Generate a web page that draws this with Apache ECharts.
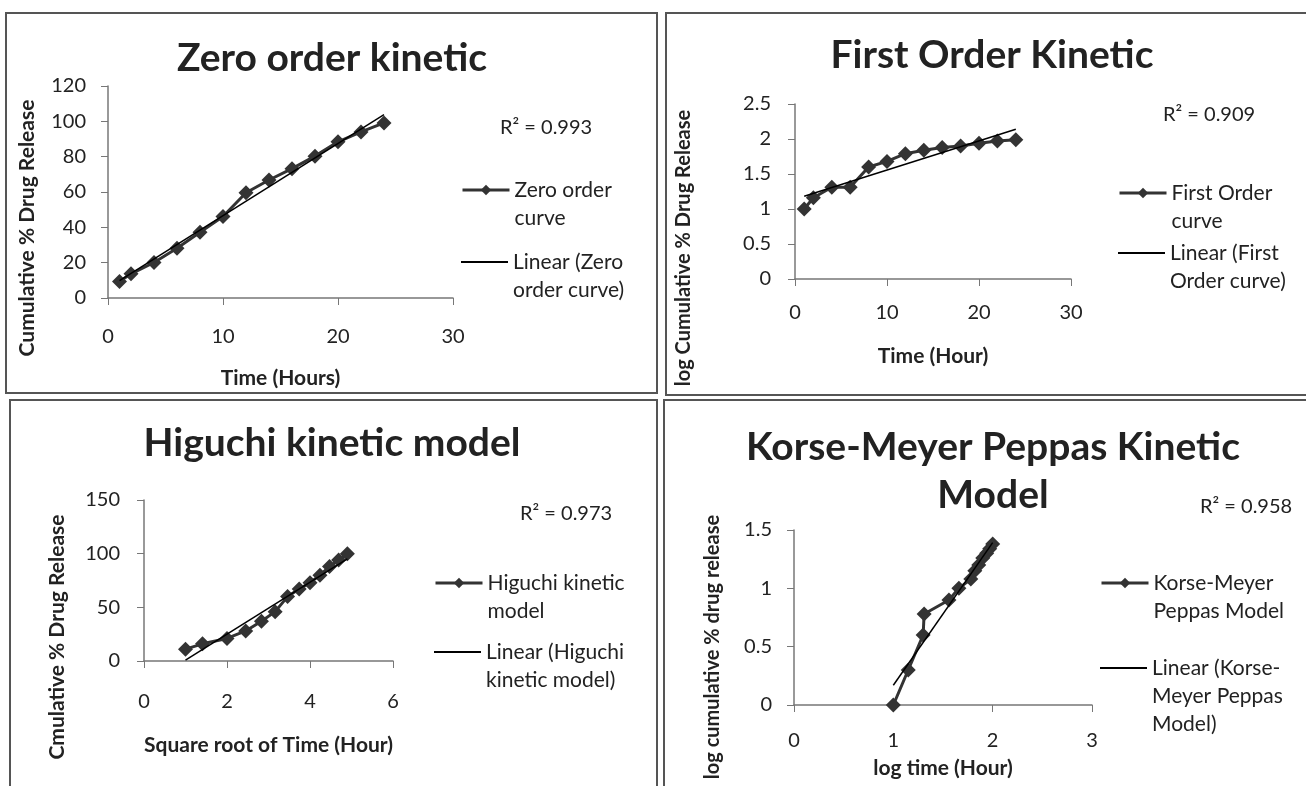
<!DOCTYPE html>
<html>
<head>
<meta charset="utf-8">
<script src="https://cdn.jsdelivr.net/npm/echarts@6/dist/echarts.min.js"></script>
<style>
  html, body { margin: 0; padding: 0; background: #fff; }
  #chart { width: 1306px; height: 786px; }
</style>
</head>
<body>
<div id="chart"></div>
<script>
// values
var zeroTime = [1, 2, 4, 6, 8, 10, 12, 14, 16, 18, 20, 22, 24];
var zeroRelease = [9.4, 13.7, 20.1, 28.2, 37.2, 46.1, 59.6, 66.8, 73.2, 80.3, 88.4, 94, 99.1];

var firstTime = [1, 2, 4, 6, 8, 10, 12, 14, 16, 18, 20, 22, 24];
var firstLogRelease = [1.0, 1.16, 1.31, 1.31, 1.6, 1.68, 1.79, 1.84, 1.88, 1.9, 1.94, 1.97, 1.99];

var higuchiSqrtTime = [1, 1.41, 2, 2.45, 2.83, 3.16, 3.46, 3.74, 4, 4.24, 4.47, 4.69, 4.9];
var higuchiRelease = [11, 16, 21, 28, 37, 46, 60, 67, 73, 80, 88, 94, 100];

var kpLogRelease = [1.0, 1.15, 1.30, 1.31, 1.56, 1.66, 1.78, 1.82, 1.86, 1.90, 1.94, 1.97, 2.0];
var kpLogTime = [0, 0.3, 0.6, 0.78, 0.9, 1.0, 1.08, 1.15, 1.2, 1.26, 1.3, 1.34, 1.38];

var rSquared = ['0.993', '0.909', '0.973', '0.958'];

var font = 'Lato';
var ink = '#222';

function pairs(xs, ys) {
  return xs.map(function (x, i) { return [x, ys[i]]; });
}

// least squares trendline over the data range, like Excel's linear trendline
function trend(xs, ys) {
  var n = xs.length, sx = 0, sy = 0, sxx = 0, sxy = 0;
  for (var i = 0; i < n; i++) {
    sx += xs[i]; sy += ys[i]; sxx += xs[i] * xs[i]; sxy += xs[i] * ys[i];
  }
  var b = (n * sxy - sx * sy) / (n * sxx - sx * sx);
  var a = (sy - b * sx) / n;
  var x0 = Math.min.apply(null, xs), x1 = Math.max.apply(null, xs);
  return [[x0, a + b * x0], [x1, a + b * x1]];
}

function xAxis(idx, max, interval, name, gap, margin) {
  return {
    gridIndex: idx, type: 'value', min: 0, max: max, interval: interval,
    name: name, nameLocation: 'middle', nameGap: gap,
    nameTextStyle: { fontFamily: font, fontWeight: 'bold', fontSize: 21, color: ink },
    axisLine: { lineStyle: { color: '#777', width: 1.5 } },
    axisTick: { show: true, length: 7, lineStyle: { color: '#777' } },
    axisLabel: { margin: margin, fontFamily: font, fontSize: 20, color: ink },
    splitLine: { show: false }
  };
}

function yAxis(idx, max, interval, margin) {
  return {
    gridIndex: idx, type: 'value', min: 0, max: max, interval: interval,
    axisLine: { show: true, lineStyle: { color: '#777', width: 1.5 } },
    axisTick: { show: true, length: 7, lineStyle: { color: '#777' } },
    axisLabel: { margin: margin, fontFamily: font, fontSize: 20, color: ink },
    splitLine: { show: false }
  };
}

function dataSeries(name, idx, data) {
  return {
    name: name, type: 'line', xAxisIndex: idx, yAxisIndex: idx, data: data,
    symbol: 'diamond', symbolSize: 15,
    lineStyle: { color: '#333', width: 3 },
    itemStyle: { color: '#333' },
    z: 2
  };
}

function trendSeries(name, idx, data) {
  return {
    name: name, type: 'line', xAxisIndex: idx, yAxisIndex: idx, data: data,
    symbol: 'none', lineStyle: { color: '#000', width: 1.5 }, itemStyle: { color: '#000' },
    z: 3
  };
}

// one legend per item so each can sit where the original puts it;
// blank lines on top keep the key level with the first text line
function legendItem(name, text, x, cy, isTrend) {
  var lh = 28;
  var lines = text.split('\n').length;
  var pad = new Array(lines).join('\n');
  return {
    data: [isTrend ? { name: name, icon: 'rect' } : name],
    left: x, top: cy - (2 * lines - 1) * lh / 2,
    orient: 'vertical', padding: 0, itemWidth: 47, itemHeight: isTrend ? 2 : 13, itemGap: 0,
    selectedMode: false,
    lineStyle: { width: 3 },
    formatter: function () { return pad + text; },
    textStyle: { fontFamily: font, fontSize: 21, lineHeight: lh, color: ink }
  };
}

function label(text, x, y, fs, bold, rotate, align) {
  return {
    type: 'text', x: x, y: y, rotation: rotate ? Math.PI / 2 : 0,
    style: {
      text: text, fontFamily: font, fontSize: fs, fontWeight: bold ? 'bold' : 'normal',
      fill: ink, textAlign: align || 'center', textVerticalAlign: 'middle'
    }
  };
}

function frame(x, y, w, h) {
  return { type: 'rect', shape: { x: x, y: y, width: w, height: h },
           style: { fill: 'none', stroke: '#555', lineWidth: 2 } };
}

var chart = echarts.init(document.getElementById('chart'));

var option = {
  backgroundColor: '#fff',
  animation: false,
  grid: [
    { left: 108, top: 86, width: 345, height: 212 },
    { left: 795, top: 104, width: 276, height: 175 },
    { left: 144, top: 500, width: 249, height: 161 },
    { left: 794, top: 530, width: 298, height: 175 }
  ],
  xAxis: [
    xAxis(0, 30, 10, 'Time (Hours)', 70, 29),
    xAxis(1, 30, 10, 'Time (Hour)', 67, 24),
    xAxis(2, 6, 2, 'Square root of Time (Hour)', 74, 31),
    xAxis(3, 3, 1, 'log time (Hour)', 53, 26)
  ],
  yAxis: [
    yAxis(0, 120, 20, 22),
    yAxis(1, 2.5, 0.5, 24),
    yAxis(2, 150, 50, 24),
    yAxis(3, 1.5, 0.5, 22)
  ],
  legend: [
    legendItem('Zero order curve', 'Zero order\ncurve', 461, 190),
    legendItem('Linear (Zero order curve)', 'Linear (Zero\norder curve)', 461, 262, true),
    legendItem('First Order curve', 'First Order\ncurve', 1118, 193),
    legendItem('Linear (First Order curve)', 'Linear (First\nOrder curve)', 1118, 253, true),
    legendItem('Higuchi kinetic model', 'Higuchi kinetic\nmodel', 434, 583),
    legendItem('Linear (Higuchi kinetic model)', 'Linear (Higuchi\nkinetic model)', 434, 652, true),
    legendItem('Korse-Meyer Peppas Model', 'Korse-Meyer\nPeppas Model', 1100, 583),
    legendItem('Linear (Korse-Meyer Peppas Model)', 'Linear (Korse-\nMeyer Peppas\nModel)', 1100, 668, true)
  ],
  series: [
    dataSeries('Zero order curve', 0, pairs(zeroTime, zeroRelease)),
    trendSeries('Linear (Zero order curve)', 0, trend(zeroTime, zeroRelease)),
    dataSeries('First Order curve', 1, pairs(firstTime, firstLogRelease)),
    trendSeries('Linear (First Order curve)', 1, trend(firstTime, firstLogRelease)),
    dataSeries('Higuchi kinetic model', 2, pairs(higuchiSqrtTime, higuchiRelease)),
    trendSeries('Linear (Higuchi kinetic model)', 2, trend(higuchiSqrtTime, higuchiRelease)),
    dataSeries('Korse-Meyer Peppas Model', 3, pairs(kpLogRelease, kpLogTime)),
    trendSeries('Linear (Korse-Meyer Peppas Model)', 3, trend(kpLogRelease, kpLogTime))
  ],
  graphic: [
    frame(6, 13, 651, 380),
    frame(666, 13, 650, 382),
    frame(10, 400, 647, 400),
    frame(664, 400, 650, 400),

    label('Zero order kinetic', 332, 58, 39, true),
    label('First Order Kinetic', 992, 55, 39, true),
    label('Higuchi kinetic model', 332, 443, 39, true),
    label('Korse-Meyer Peppas Kinetic', 993, 447, 39, true),
    label('Model', 993, 495, 39, true),

    label('Cumulative % Drug Release', 27, 228, 21, true, true),
    label('log Cumulative % Drug Release', 684, 248, 20, true, true),
    label('Cmulative % Drug Release', 57, 637, 21, true, true),
    label('log cumulative % drug release', 713, 647, 20, true, true),

    label('R\u00b2 = ' + rSquared[0], 500, 128, 20, false, false, 'left'),
    label('R\u00b2 = ' + rSquared[1], 1163, 115, 20, false, false, 'left'),
    label('R\u00b2 = ' + rSquared[2], 520, 514, 20, false, false, 'left'),
    label('R\u00b2 = ' + rSquared[3], 1200, 507, 20, false, false, 'left')
  ]
};

chart.setOption(option);
</script>
</body>
</html>
